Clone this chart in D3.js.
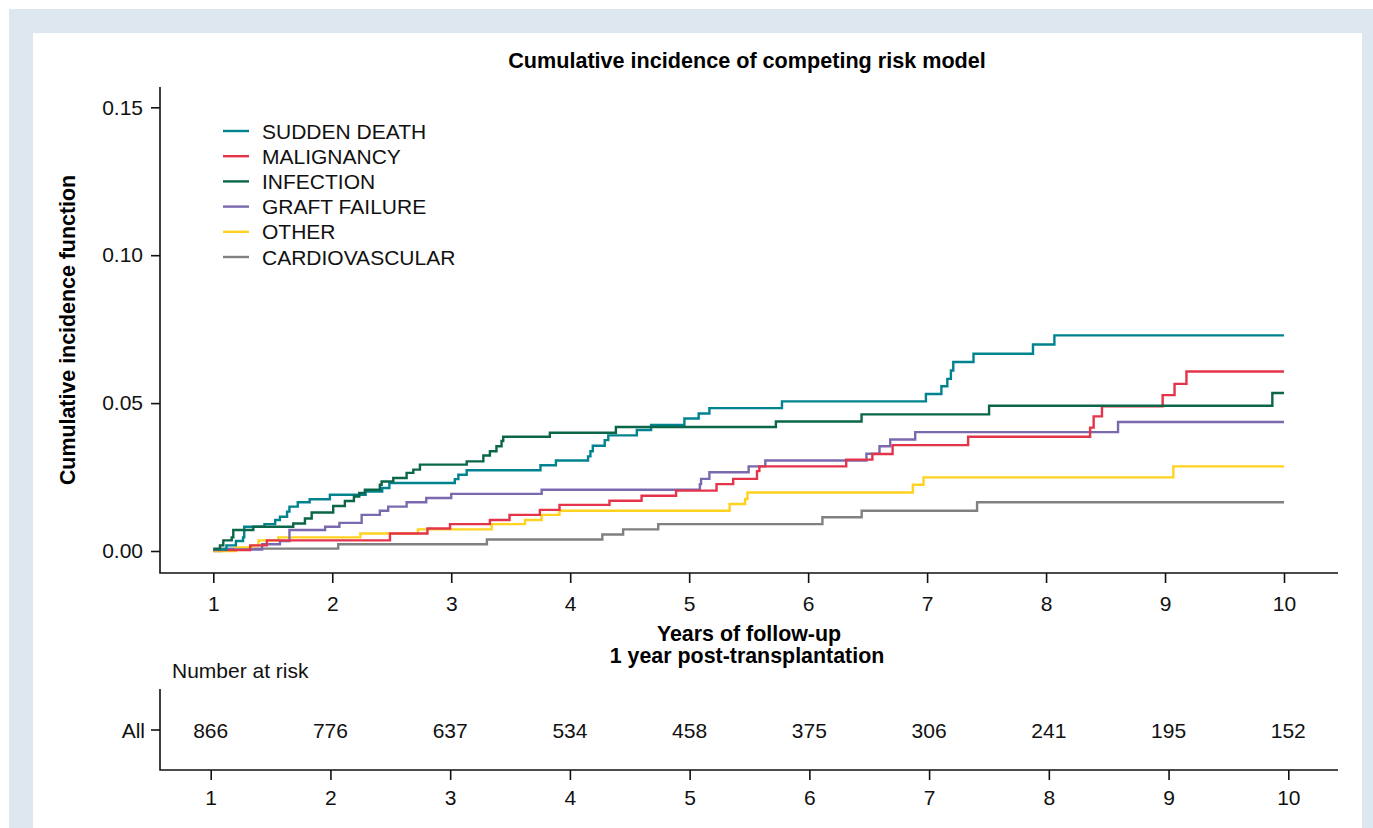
<!DOCTYPE html>
<html>
<head>
<meta charset="utf-8">
<script src="https://cdn.jsdelivr.net/npm/d3@7"></script>
<style>
  body { margin: 0; background: #fff; }
  svg { display: block; font-family: "Liberation Sans", Arial, sans-serif; }
  .axis text { font-size: 21px; fill: #111; }
  .axis line { stroke: #111; stroke-width: 1.6; }
</style>
</head>
<body>
<div id="chart"></div>
<script>
// step points: [years, cumulative incidence] - value holds from that time on
var suddenDeath = [[1.0, 0.0005], [1.11, 0.0019], [1.19, 0.0034], [1.25, 0.0046], [1.26, 0.0082], [1.43, 0.0091], [1.52, 0.0105], [1.56, 0.0116], [1.62, 0.0133], [1.64, 0.015], [1.71, 0.0165], [1.81, 0.0175], [1.98, 0.019], [2.28, 0.0201], [2.42, 0.0213], [2.48, 0.023], [3.03, 0.0243], [3.06, 0.0258], [3.13, 0.0273], [3.75, 0.029], [3.88, 0.0306], [4.15, 0.032], [4.17, 0.0337], [4.19, 0.0356], [4.29, 0.0375], [4.32, 0.0391], [4.56, 0.0409], [4.68, 0.0426], [4.96, 0.0448], [5.08, 0.0465], [5.17, 0.0483], [5.78, 0.0506], [6.99, 0.0531], [7.12, 0.0557], [7.17, 0.0582], [7.2, 0.061], [7.22, 0.0639], [7.39, 0.0667], [7.89, 0.0698], [8.07, 0.0729]];
var malignancy = [[1.0, 0.0003], [1.31, 0.0019], [1.45, 0.0036], [2.485, 0.0059], [2.8, 0.0076], [2.99, 0.0091], [3.325, 0.0105], [3.49, 0.0122], [3.745, 0.0139], [3.91, 0.0156], [4.33, 0.017], [4.6, 0.0187], [4.89, 0.0204], [5.23, 0.0226], [5.37, 0.0244], [5.57, 0.027], [5.59, 0.0286], [6.32, 0.0309], [6.54, 0.0328], [6.71, 0.0358], [7.345, 0.0386], [8.37, 0.0417], [8.4, 0.0455], [8.47, 0.0489], [8.98, 0.0527], [9.08, 0.0565], [9.18, 0.0607]];
var infection = [[1.0, 0.0008], [1.056, 0.0019], [1.084, 0.0036], [1.155, 0.0046], [1.168, 0.0071], [1.336, 0.0082], [1.672, 0.0093], [1.77, 0.011], [1.827, 0.013], [2.008, 0.0152], [2.106, 0.0169], [2.182, 0.0184], [2.227, 0.0196], [2.274, 0.0207], [2.40, 0.0224], [2.415, 0.0235], [2.513, 0.0247], [2.625, 0.0264], [2.681, 0.0275], [2.737, 0.0292], [3.13, 0.0303], [3.27, 0.0323], [3.325, 0.0337], [3.38, 0.0354], [3.423, 0.0372], [3.437, 0.0386], [3.829, 0.040], [4.384, 0.0419], [5.729, 0.0438], [6.449, 0.0462], [7.521, 0.0491], [9.902, 0.0534]];
var graftFailure = [[1.0, 0.0005], [1.41, 0.0023], [1.56, 0.0034], [1.64, 0.0071], [1.94, 0.0082], [2.06, 0.0095], [2.247, 0.0122], [2.40, 0.0136], [2.47, 0.015], [2.625, 0.0165], [2.79, 0.0179], [3.0, 0.0193], [3.76, 0.0207], [5.09, 0.0226], [5.10, 0.0244], [5.17, 0.0266], [5.5, 0.0286], [5.64, 0.0306], [6.49, 0.0329], [6.6, 0.0354], [6.69, 0.0377], [6.9, 0.0402], [8.605, 0.0436]];
var other = [[1.0, 0.0], [1.19, 0.0012], [1.33, 0.0019], [1.38, 0.0036], [1.546, 0.0046], [2.236, 0.0059], [2.72, 0.0073], [3.34, 0.0091], [3.62, 0.0105], [3.76, 0.0122], [3.91, 0.0136], [5.34, 0.0159], [5.47, 0.0176], [5.49, 0.0198], [6.88, 0.0224], [6.97, 0.0249], [9.07, 0.0286]];
var cardiovascular = [[1.0, 0.0], [1.07, 0.0008], [2.05, 0.0023], [3.30, 0.0039], [4.27, 0.0056], [4.445, 0.0073], [4.74, 0.0091], [6.12, 0.0114], [6.45, 0.0136], [7.42, 0.0165]];

var seriesNames = ["SUDDEN DEATH", "MALIGNANCY", "INFECTION", "GRAFT FAILURE", "OTHER", "CARDIOVASCULAR"];
var seriesColors = ["#00838f", "#e3344a", "#0a6649", "#7a69ae", "#ffd21f", "#808080"];

var xTicks = [1, 2, 3, 4, 5, 6, 7, 8, 9, 10];
var yTicks = [0, 0.05, 0.10, 0.15];
var riskYears = [1, 2, 3, 4, 5, 6, 7, 8, 9, 10];
var riskAll = [866, 776, 637, 534, 458, 375, 306, 241, 195, 152];

var width = 1373, height = 828;
var plot = { left: 160, top: 87, right: 1338, bottom: 573 };
var table = { top: 689, bottom: 770 };

var svg = d3.select("#chart").append("svg")
  .attr("width", width)
  .attr("height", height);

// frame
svg.append("rect").attr("x", 9).attr("y", 9)
  .attr("width", width - 9).attr("height", height - 9).attr("fill", "#dee7f0");
svg.append("rect").attr("x", 33).attr("y", 33)
  .attr("width", 1362 - 33).attr("height", height - 33).attr("fill", "#fff");

var x = d3.scaleLinear().domain([1, 10]).range([213.3, 1284]);
var y = d3.scaleLinear().domain([0, 0.15]).range([551, 107.3]);
var xb = d3.scaleLinear().domain([1, 10]).range([210.7, 1288.3]);

svg.append("text")
  .attr("x", (plot.left + plot.right) / 2 - 2)
  .attr("y", 60)
  .attr("text-anchor", "middle")
  .attr("dominant-baseline", "central")
  .style("font-size", "21.6px")
  .style("font-weight", "bold")
  .text("Cumulative incidence of competing risk model");

// axes
var gy = svg.append("g").attr("class", "axis")
  .attr("transform", "translate(" + plot.left + ",0)")
  .call(d3.axisLeft(y).tickValues(yTicks).tickFormat(d3.format(".2f")).tickSize(9).tickPadding(8));
gy.select(".domain").remove();

var gx = svg.append("g").attr("class", "axis")
  .attr("transform", "translate(0," + plot.bottom + ")")
  .call(d3.axisBottom(x).tickValues(xTicks).tickSize(10).tickPadding(13));
gx.select(".domain").remove();

svg.append("path")
  .attr("d", "M" + plot.left + "," + plot.top + "V" + plot.bottom + "H" + plot.right)
  .attr("fill", "none").attr("stroke", "#111").attr("stroke-width", 1.6);

svg.append("text")
  .attr("transform", "translate(68," + (plot.top + plot.bottom) / 2 + ") rotate(-90)")
  .attr("text-anchor", "middle")
  .attr("dominant-baseline", "central")
  .style("font-size", "21.4px")
  .style("font-weight", "bold")
  .text("Cumulative incidence function");

svg.append("text")
  .attr("x", (plot.left + plot.right) / 2).attr("y", 634)
  .attr("text-anchor", "middle").attr("dominant-baseline", "central")
  .style("font-size", "21.4px").style("font-weight", "bold")
  .text("Years of follow-up");
svg.append("text")
  .attr("x", (plot.left + plot.right) / 2 - 2).attr("y", 656)
  .attr("text-anchor", "middle").attr("dominant-baseline", "central")
  .style("font-size", "21.4px").style("font-weight", "bold")
  .text("1 year post-transplantation");

// curves
var allSeries = [suddenDeath, malignancy, infection, graftFailure, other, cardiovascular];
var line = d3.line()
  .x(function (d) { return x(d[0]); })
  .y(function (d) { return y(d[1]); })
  .curve(d3.curveStepAfter);

var drawOrder = [5, 4, 3, 1, 0, 2];
drawOrder.forEach(function (i) {
  var s = allSeries[i];
  var pts = s.concat([[xTicks[xTicks.length - 1], s[s.length - 1][1]]]);
  svg.append("path")
    .attr("d", line(pts))
    .attr("fill", "none")
    .attr("stroke", seriesColors[i])
    .attr("stroke-width", 2.4);
});

// legend
var legend = svg.append("g").attr("transform", "translate(223,131)");
seriesNames.forEach(function (name, i) {
  var g = legend.append("g").attr("transform", "translate(0," + i * 25.2 + ")");
  g.append("line").attr("x1", 0).attr("x2", 26)
    .attr("stroke", seriesColors[i]).attr("stroke-width", 2.4);
  g.append("text").attr("x", 39).attr("dominant-baseline", "central")
    .style("font-size", "21px").attr("fill", "#111").text(name);
});

// number at risk table
svg.append("text")
  .attr("x", 172).attr("y", 670).attr("dominant-baseline", "central")
  .style("font-size", "21px").attr("fill", "#111")
  .text("Number at risk");

svg.append("path")
  .attr("d", "M" + plot.left + "," + table.top + "V" + table.bottom + "H" + plot.right)
  .attr("fill", "none").attr("stroke", "#111").attr("stroke-width", 1.6);

var rowY = (table.top + table.bottom) / 2 + 0.5;
svg.append("line").attr("x1", plot.left - 9).attr("x2", plot.left)
  .attr("y1", rowY).attr("y2", rowY).attr("stroke", "#111").attr("stroke-width", 1.6);
svg.append("text")
  .attr("x", 145).attr("y", rowY).attr("text-anchor", "end")
  .attr("dominant-baseline", "central").style("font-size", "21px").attr("fill", "#111")
  .text("All");

svg.append("g").selectAll("text")
  .data(riskYears)
  .enter().append("text")
  .attr("x", function (d) { return xb(d); })
  .attr("y", rowY)
  .attr("text-anchor", "middle")
  .attr("dominant-baseline", "central")
  .style("font-size", "21px").attr("fill", "#111")
  .text(function (d, i) { return riskAll[i]; });

var gb = svg.append("g").attr("class", "axis")
  .attr("transform", "translate(0," + table.bottom + ")")
  .call(d3.axisBottom(xb).tickValues(xTicks).tickSize(10).tickPadding(10));
gb.select(".domain").remove();
</script>
</body>
</html>
